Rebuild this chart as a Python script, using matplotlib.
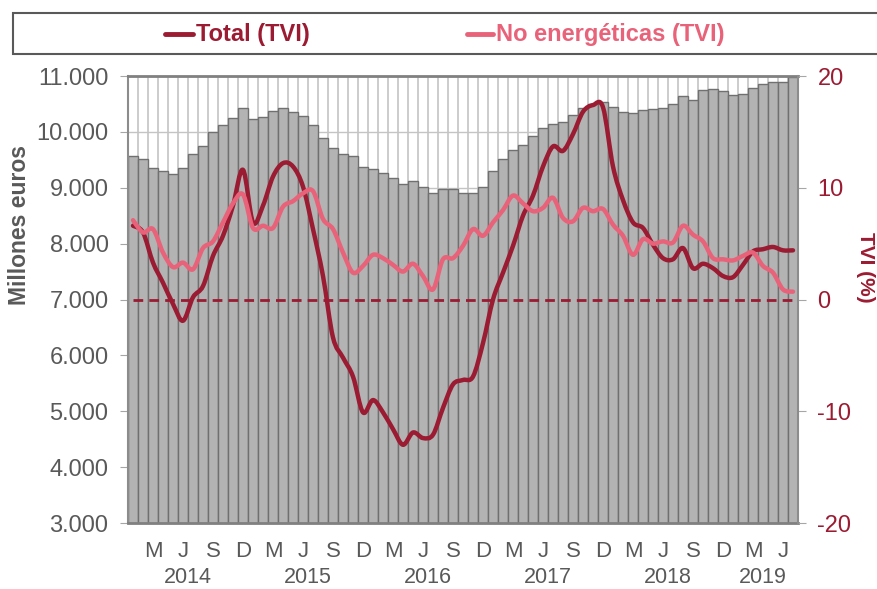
import matplotlib
matplotlib.use('Agg')
import matplotlib.pyplot as plt
import numpy as np
from matplotlib.path import Path
from matplotlib.patches import PathPatch, Rectangle
from matplotlib.lines import Line2D

plt.rcParams['font.family'] = ['Liberation Sans', 'DejaVu Sans']
plt.rcParams['axes.unicode_minus'] = False

# monthly values, Jan 2014 .. Jul 2019
ventas = [9570, 9510, 9355, 9305, 9250, 9355, 9600, 9750, 10000, 10125, 10255, 10435,
          10235, 10270, 10375, 10420, 10350, 10290, 10120, 9895, 9705, 9605, 9575, 9370,
          9330, 9260, 9175, 9075, 9115, 9010, 8905, 8975, 8975, 8900, 8905, 9010,
          9300, 9515, 9670, 9765, 9920, 10075, 10135, 10170, 10295, 10420, 10505, 10530,
          10445, 10360, 10330, 10385, 10405, 10430, 10495, 10650, 10575, 10745, 10775, 10730,
          10660, 10685, 10780, 10860, 10895, 10885, 10975]

total_tvi = [6.6, 6.0, 3.3, 1.5, -0.4, -1.9, 0.2, 1.2, 3.9, 5.7, 8.4, 11.6,
             6.9, 8.4, 11.0, 12.2, 11.9, 10.1, 6.3, 2.1, -3.4, -5.2, -6.9, -10.1,
             -9.0, -10.1, -11.6, -13.0, -11.9, -12.4, -12.1, -9.7, -7.6, -7.2, -6.9, -3.9,
             0.0, 2.4, 4.8, 7.5, 9.3, 11.9, 13.7, 13.3, 14.8, 16.8, 17.4, 17.2,
             11.9, 8.9, 6.9, 6.4, 4.9, 3.7, 3.6, 4.6, 2.8, 3.2, 2.8, 2.1,
             2.0, 3.1, 4.3, 4.5, 4.7, 4.4, 4.4]

no_energ_tvi = [7.1, 6.0, 6.3, 4.2, 2.9, 3.3, 2.7, 4.6, 5.2, 6.9, 8.6, 9.4,
                6.4, 6.6, 6.4, 8.3, 8.8, 9.5, 9.7, 7.2, 6.3, 4.2, 2.4, 3.0,
                4.0, 3.7, 3.1, 2.5, 3.2, 2.1, 0.9, 3.6, 3.7, 4.8, 6.3, 5.7,
                6.9, 8.0, 9.3, 8.6, 7.9, 8.2, 9.1, 7.3, 7.0, 8.2, 7.9, 8.1,
                6.7, 5.7, 4.0, 5.4, 5.0, 5.2, 5.1, 6.6, 5.8, 5.2, 3.7, 3.6,
                3.5, 3.9, 4.2, 3.0, 2.4, 0.9, 0.7]

month_letters = ['M', 'J', 'S', 'D']
years = ['2014', '2015', '2016', '2017', '2018', '2019']

dark_red = '#9B1B32'
pink = '#E8637A'
gray_txt = '#595959'


def smooth_path(x, y):
    # Catmull-Rom -> cubic bezier, similar to Excel "smoothed line"
    n = len(x)
    verts = [(x[0], y[0])]
    codes = [Path.MOVETO]
    for i in range(n - 1):
        p0 = max(i - 1, 0)
        p3 = min(i + 2, n - 1)
        c1 = (x[i] + (x[i + 1] - x[p0]) / 6, y[i] + (y[i + 1] - y[p0]) / 6)
        c2 = (x[i + 1] - (x[p3] - x[i]) / 6, y[i + 1] - (y[p3] - y[i]) / 6)
        verts += [c1, c2, (x[i + 1], y[i + 1])]
        codes += [Path.CURVE4] * 3
    return Path(verts, codes)


n = len(ventas)
x = np.arange(n)

fig = plt.figure(figsize=(8.78, 5.89), dpi=100)
ax = fig.add_axes([128 / 878, 1 - 523 / 589, 670 / 878, 447 / 589])

ax.bar(x, ventas, width=1.0, color='#b3b3b3', edgecolor='#707070', linewidth=1.0, zorder=2)
ax.set_xlim(-0.5, n - 0.5)
ax.set_ylim(3000, 11000)
ax.set_yticks(np.arange(3000, 11001, 1000))
ax.set_yticklabels([f'{v:,}'.replace(',', '.') for v in range(3000, 11001, 1000)])

# month boundaries as light vertical grid
ax.set_xticks(np.arange(-0.5, n, 1.0), minor=True)
ax.grid(True, which='minor', axis='x', color='#c4c4c4', linewidth=1.2, zorder=0)
ax.grid(True, which='major', axis='y', color='#c4c4c4', linewidth=1.0, zorder=0)
ax.set_axisbelow(True)

tick_pos = np.arange(2, n, 3)
ax.set_xticks(tick_pos)
ax.set_xticklabels([month_letters[k % 4] for k in range(len(tick_pos))])
ax.tick_params(axis='x', which='both', length=0, pad=13, labelsize=16, labelcolor=gray_txt)
ax.tick_params(axis='y', length=6, color='#a6a6a6', pad=8, labelsize=17, labelcolor=gray_txt)

for sp in ['top', 'bottom']:
    ax.spines[sp].set_color('#808080')
    ax.spines[sp].set_linewidth(2)
ax.spines['left'].set_color('#8c8c8c')
ax.spines['left'].set_linewidth(1.5)
ax.spines['right'].set_visible(False)

# year labels under month letters
for k, yr in enumerate(years):
    start = k * 12
    end = min(start + 11, n - 1)
    ax.text((start + end) / 2, -0.122, yr, transform=ax.get_xaxis_transform(),
            ha='center', va='center', fontsize=15.5, color=gray_txt)

ax2 = ax.twinx()
ax2.set_ylim(-20, 20)
ax2.set_yticks([-20, -10, 0, 10, 20])
ax2.tick_params(axis='y', length=6, color='#a6a6a6', pad=8, labelsize=17, labelcolor=dark_red)
for sp in ['top', 'bottom', 'left']:
    ax2.spines[sp].set_visible(False)
ax2.spines['right'].set_color('#8c8c8c')
ax2.spines['right'].set_linewidth(1.5)

ax2.axhline(0, xmin=0.007, xmax=0.995, color=dark_red, linewidth=2.0,
            linestyle=(0, (3.5, 2.2)), zorder=3)

ax2.add_patch(PathPatch(smooth_path(x, total_tvi), facecolor='none', edgecolor=dark_red,
                        linewidth=3.2, capstyle='round', joinstyle='round', zorder=4))
ax2.add_patch(PathPatch(smooth_path(x, no_energ_tvi), facecolor='none', edgecolor=pink,
                        linewidth=3.2, capstyle='round', joinstyle='round', zorder=5))

# axis titles
fig.text(20 / 878, 1 - 225 / 589, 'Millones euros', rotation=90, ha='center', va='center',
         fontsize=16.5, fontweight='bold', color=gray_txt)
fig.text(866 / 878, 1 - 267 / 589, 'TVI (%)', rotation=-90, ha='center', va='center',
         fontsize=15, fontweight='bold', color=dark_red)

# legend box across the top
fig.patches.append(Rectangle((13 / 878, 1 - 54 / 589), 880 / 878, 41 / 589,
                             transform=fig.transFigure, facecolor='white',
                             edgecolor='#595959', linewidth=1.5))
fig.lines.append(Line2D([165 / 878, 193 / 878], [1 - 34 / 589] * 2, transform=fig.transFigure,
                        color=dark_red, linewidth=3.5, solid_capstyle='round'))
fig.text(196 / 878, 1 - 35 / 589, 'Total (TVI)', ha='left', va='center',
         fontsize=17, fontweight='bold', color=dark_red)
fig.lines.append(Line2D([467 / 878, 493 / 878], [1 - 34 / 589] * 2, transform=fig.transFigure,
                        color=pink, linewidth=3.5, solid_capstyle='round'))
fig.text(496 / 878, 1 - 35 / 589, 'No energéticas (TVI)', ha='left', va='center',
         fontsize=17, fontweight='bold', color=pink)

fig.savefig('out.png', dpi=100)
